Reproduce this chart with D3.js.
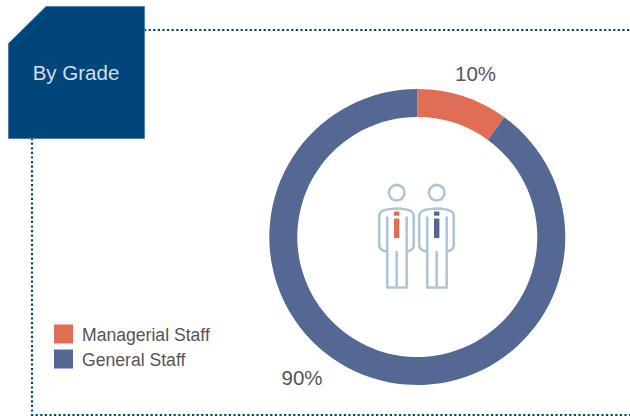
<!DOCTYPE html>
<html>
<head>
<meta charset="utf-8">
<script src="https://cdn.jsdelivr.net/npm/d3@7/dist/d3.min.js"></script>
<style>
  html, body { margin: 0; padding: 0; background: #fff; }
  svg { display: block; }
  text { font-family: "Liberation Sans", Arial, sans-serif; }
</style>
</head>
<body>
<svg id="chart" width="630" height="416"></svg>
<script>
const categories = ["Managerial Staff", "General Staff"];
const shares = [10, 90];
const shareLabels = ["10%", "90%"];
const colors = ["#e06e55", "#546893"];
const heading = "By Grade";

const navy = "#00467a";
const iconBlue = "#afc5d8";
const svg = d3.select("#chart");

// Dotted frame running behind the heading tab
const frame = d3.path();
frame.moveTo(144, 30); frame.lineTo(630, 30);
frame.moveTo(32, 138); frame.lineTo(32, 415); frame.lineTo(630, 415);
svg.append("path").attr("d", frame.toString())
  .attr("fill", "none").attr("stroke", navy)
  .attr("stroke-width", 2.2).attr("stroke-dasharray", "2.2 2.4");

// Heading tab with its clipped corner
svg.append("path").attr("d", "M8.5,43.5L46,6.5H144.5V138.5H8.5Z")
  .attr("fill", navy).attr("stroke", "#4f7fa3").attr("stroke-width", 1);
svg.append("text").attr("x", 76).attr("y", 79.5).attr("text-anchor", "middle")
  .attr("font-size", 20.5).attr("fill", "#d5dfe8").text(heading);

// Ring
const cx = 417.3, cy = 237;
const ring = svg.append("g").attr("transform", `translate(${cx},${cy})`);
const pie = d3.pie().sort(null).value(d => d);
const arc = d3.arc().innerRadius(120).outerRadius(148);
ring.selectAll("path").data(pie(shares)).join("path")
  .attr("d", arc).attr("fill", (d, i) => colors[i]);

// Share labels beside the ring
const labelPos = [[475.5, 81], [302, 385]];
svg.selectAll("text.share").data(shareLabels).join("text")
  .attr("class", "share")
  .attr("x", (d, i) => labelPos[i][0]).attr("y", (d, i) => labelPos[i][1])
  .attr("text-anchor", "middle").attr("font-size", 20.5)
  .attr("fill", "#555").text(d => d);

// Legend
const legend = svg.append("g");
const rowY = d3.scaleBand().domain(categories).range([324.5, 372.5]).paddingInner(0.08);
legend.selectAll("rect").data(categories).join("rect")
  .attr("x", 54).attr("y", d => rowY(d))
  .attr("width", 19).attr("height", 19)
  .attr("fill", (d, i) => colors[i]);
legend.selectAll("text").data(categories).join("text")
  .attr("x", 82).attr("y", d => rowY(d) + 16)
  .attr("font-size", 17.6).attr("fill", "#555").text(d => d);

// Two standing figures in the middle of the ring, one per staff group
function figure(x, tie) {
  const g = svg.append("g").attr("transform", `translate(${x},0)`);
  const line = g.append("g").attr("fill", "none").attr("stroke", iconBlue)
    .attr("stroke-width", 2.6).attr("stroke-linejoin", "round");
  line.append("circle").attr("cx", 0).attr("cy", 192.7).attr("r", 7.8);
  // Shoulders and outer arms
  line.append("path").attr("d",
    "M10,251.5 C14,251 17,249 17,245 V216 C17,210 10,209 0,208.5 C-10,209 -17.5,210 -17.5,216 V245 C-17.5,249 -14,251 -9.5,251.5");
  // Inner arm lines and legs
  line.append("path").attr("d",
    "M-9.5,216.5 V287.5 H10 V216.5 M0,251 V287.5");
  g.append("rect").attr("x", -2.7).attr("y", 211.5).attr("width", 5.4).attr("height", 4.2).attr("fill", tie);
  g.append("rect").attr("x", -2.7).attr("y", 218.5).attr("width", 5.4).attr("height", 19.5).attr("fill", tie);
}
figure(396.7, colors[0]);
figure(436.7, colors[1]);
</script>
</body>
</html>
